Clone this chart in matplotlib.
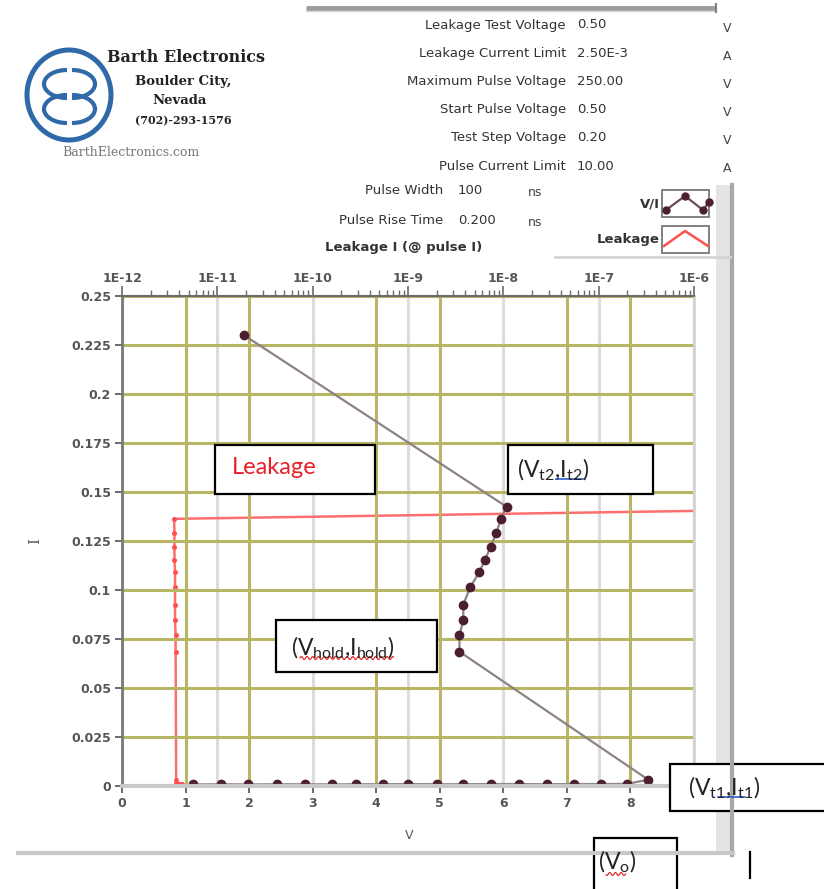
import numpy as np
import matplotlib.pyplot as plt
from matplotlib.patches import Rectangle, Arc, Ellipse
from matplotlib.ticker import LogLocator, FuncFormatter, NullFormatter
from matplotlib import font_manager

# pulse V/I curve: pulse voltage (V) and pulse current (A), in pulse order
vi_v = [1.12, 1.55, 1.99, 2.44, 2.88, 3.30, 3.68, 4.11, 4.50, 4.95, 5.37, 5.81,
        6.25, 6.68, 7.11, 7.54, 7.95, 8.28, 5.31, 5.31, 5.37, 5.37, 5.48, 5.62,
        5.71, 5.80, 5.89, 5.96, 6.05, 1.92]
vi_i = [0.0008, 0.0009, 0.0008, 0.0009, 0.0009, 0.0008, 0.0009, 0.0009, 0.0010,
        0.0009, 0.0009, 0.0010, 0.0010, 0.0009, 0.0010, 0.0010, 0.0011, 0.0032,
        0.0685, 0.0770, 0.0845, 0.0925, 0.1015, 0.1090, 0.1153, 0.1220, 0.1290,
        0.1363, 0.1425, 0.2300]

# leakage current (A) measured after each pulse, plotted against pulse current
leak_a = [4.3e-12, 4.1e-12, 3.9e-12, 4.2e-12, 3.8e-12, 4.0e-12, 3.8e-12, 3.9e-12,
          3.7e-12, 3.8e-12, 3.7e-12, 3.8e-12, 3.7e-12, 3.7e-12, 3.8e-12, 3.7e-12,
          3.7e-12, 3.7e-12, 3.65e-12, 3.65e-12, 3.6e-12, 3.6e-12, 3.6e-12,
          3.6e-12, 3.55e-12, 3.55e-12, 3.55e-12, 3.52e-12, 8.0e-4, 9.0e-4]
leak_i = vi_i

yticks = [0, 0.025, 0.05, 0.075, 0.1, 0.125, 0.15, 0.175, 0.2, 0.225, 0.25]
ytick_labels = ['0', '0.025', '0.05', '0.075', '0.1', '0.125', '0.15', '0.175',
                '0.2', '0.225', '0.25']
xticks = [0, 1, 2, 3, 4, 5, 6, 7, 8, 9]

param_names = ['Leakage Test Voltage', 'Leakage Current Limit', 'Maximum Pulse Voltage',
               'Start Pulse Voltage', 'Test Step Voltage', 'Pulse Current Limit']
param_values = ['0.50', '2.50E-3', '250.00', '0.50', '0.20', '10.00']
param_units = ['V', 'A', 'V', 'V', 'V', 'A']
pulse_names = ['Pulse Width', 'Pulse Rise Time']
pulse_values = ['100', '0.200']
pulse_units = ['ns', 'ns']

installed = {f.name for f in font_manager.fontManager.ttflist}
narrow = 'Liberation Sans Narrow' if 'Liberation Sans Narrow' in installed else 'DejaVu Sans'
W, H = 824, 889

fig = plt.figure(figsize=(W / 100, H / 100), dpi=100)
fig.patch.set_facecolor('white')

# main V/I axes with log leakage axis on top
ax = fig.add_axes([122 / W, 103 / H, 572 / W, 490 / H])
ax2 = ax.twiny()
ax.set_zorder(2)
ax2.set_zorder(1)
ax.patch.set_visible(False)
ax2.patch.set_visible(True)
ax2.patch.set_facecolor('white')

olive = '#b8b564'
ax.set_xlim(0, 9)
ax.set_ylim(0, 0.25)
ax.set_xticks(xticks)
ax.set_yticks(yticks)
ax.set_yticklabels(ytick_labels)
ax.grid(True, color=olive, lw=2.2)
for k, gl in enumerate(ax.get_xgridlines()):
    if xticks[k] in (3, 6):
        gl.set_visible(False)

ax.plot(vi_v, vi_i, color='#8e8284', lw=1.6, marker='o', ms=6,
        mfc='#4b1f30', mec='#4b1f30')

ax2.set_xscale('log')
ax2.set_xlim(1e-12, 1e-6)
ax2.xaxis.set_major_locator(LogLocator(base=10, numticks=10))
ax2.xaxis.set_minor_locator(LogLocator(base=10, subs=np.arange(2, 10), numticks=100))
ax2.xaxis.set_major_formatter(FuncFormatter(lambda t, p: '1E%d' % round(np.log10(t))))
ax2.xaxis.set_minor_formatter(NullFormatter())
ax2.grid(True, axis='x', which='major', color='#dcdcdc', lw=2.2)
ax2.plot(leak_a, leak_i, color='#ff6e6e', lw=1.8, marker='o', ms=3.6,
         mfc='#ff4f4f', mec='none')

for s in ax2.spines.values():
    s.set_visible(False)
ax.spines['left'].set_color('#7a7a7a')
ax.spines['left'].set_linewidth(2)
ax.spines['top'].set_color('#6a6a6a')
ax.spines['top'].set_linewidth(1.5)
ax.spines['bottom'].set_color('#c8c8c8')
ax.spines['bottom'].set_linewidth(3)
ax.spines['right'].set_color('#d4d4d4')
ax.spines['right'].set_linewidth(2)

tick_font = dict(family='DejaVu Sans', weight='bold', size=9)
ax.tick_params(axis='both', direction='out', length=5, width=1.4, color='#6a6a6a',
               labelcolor='#555555', pad=3)
ax2.tick_params(axis='x', which='major', direction='out', length=7, width=1.2,
                color='#6a6a6a', labelcolor='#555555', pad=1)
ax2.tick_params(axis='x', which='minor', direction='out', length=4, width=1,
                color='#6a6a6a')
for lab in ax.get_xticklabels() + ax.get_yticklabels() + ax2.get_xticklabels():
    lab.set_fontproperties(font_manager.FontProperties(**tick_font))

ax.set_xlabel('V', fontsize=9, color='#555555')
ax.xaxis.set_label_coords(0.502, -0.088)
ax.set_ylabel('I', fontsize=11, color='#555555', family='DejaVu Serif')
ax.yaxis.set_label_coords(-0.14, 0.5)

# overlay in pixel coordinates for the panel, logo and callout boxes
deco = fig.add_axes([0, 0, 1, 1], zorder=10)
deco.set_xlim(0, W)
deco.set_ylim(H, 0)
deco.axis('off')

# panel frame
deco.plot([306, 716], [8, 8], color='#9c9c9c', lw=3.5, solid_capstyle='butt')
deco.plot([306, 716], [10.5, 10.5], color='#d8d8d8', lw=1)
deco.plot([716, 716], [4, 12], color='#808080', lw=1.5)
deco.add_patch(Rectangle((716, 185), 14, 670, fc='#e4e4e4', ec='none'))
deco.plot([732, 732], [185, 855], color='#a8a8a8', lw=3)
deco.plot([18, 733], [853, 853], color='#c8c8c8', lw=3)
deco.plot([555, 730], [257, 257], color='#d4d4d4', lw=2)

# parameter table
for k, (n, v, u) in enumerate(zip(param_names, param_values, param_units)):
    y = 25 + k * 28.2
    deco.text(566, y, n, ha='right', va='center', family=narrow, fontsize=9.5, color='#333333')
    deco.text(577, y, v, ha='left', va='center', family=narrow, fontsize=9.5, color='#333333')
    deco.text(727, y + 3, u, ha='center', va='center', family=narrow, fontsize=9, color='#444444')
for k, (n, v, u) in enumerate(zip(pulse_names, pulse_values, pulse_units)):
    y = 190 + k * 30
    deco.text(443, y, n, ha='right', va='center', family=narrow, fontsize=9.5, color='#333333')
    deco.text(458, y, v, ha='left', va='center', family=narrow, fontsize=9.5, color='#333333')
    deco.text(528, y + 3, u, ha='left', va='center', family=narrow, fontsize=9, color='#444444')
deco.text(325, 247, 'Leakage I (@ pulse I)', ha='left', va='center', family=narrow,
          fontsize=9.5, fontweight='bold', color='#333333')

# legend
deco.text(660, 204, 'V/I', ha='right', va='center', family=narrow, fontsize=9.5,
          fontweight='bold', color='#333333')
deco.text(660, 240, 'Leakage', ha='right', va='center', family=narrow, fontsize=9.5,
          fontweight='bold', color='#333333')
for top in (190, 226):
    deco.add_patch(Rectangle((662, top), 47, 27, fc='white', ec='#777777', lw=1.3))
deco.plot([666, 685, 703, 709], [210, 196, 210, 202], color='#6d4a55', lw=1.6,
          marker='o', ms=5, mfc='#4b1f30', mec='#4b1f30')
deco.plot([664, 685, 708], [246, 231, 246], color='#ff5050', lw=1.8)

# logo
blue = '#2f69a8'
deco.add_patch(Ellipse((69, 95), 84, 90, fill=False, ec=blue, lw=3.6))
for cy in (84, 109):
    deco.add_patch(Arc((67, cy), 46, 28, theta1=90, theta2=270, ec=blue, lw=3))
    deco.add_patch(Arc((72, cy), 46, 28, theta1=-90, theta2=90, ec=blue, lw=3))
serif = 'DejaVu Serif'
deco.text(107, 57, 'Barth Electronics', ha='left', va='center', family=serif,
          fontweight='bold', fontsize=11.5, color='#222222')
deco.text(135, 81, 'Boulder City,', ha='left', va='center', family=serif,
          fontweight='bold', fontsize=9.5, color='#222222')
deco.text(152, 101, 'Nevada', ha='left', va='center', family=serif,
          fontweight='bold', fontsize=9.5, color='#222222')
deco.text(135, 121, '(702)-293-1576', ha='left', va='center', family=serif,
          fontweight='bold', fontsize=8, color='#222222')
deco.text(62, 153, 'BarthElectronics.com', ha='left', va='center', family=serif,
          fontsize=9, color='#777777')

# callout boxes
box_font = 'Lato'
boxes = [(215, 445, 160, 49), (508, 445, 145, 49), (276, 620, 161, 52),
         (670, 764, 170, 47), (594, 838, 83, 60)]
for x0, y0, bw, bh in boxes:
    deco.add_patch(Rectangle((x0, y0), bw, bh, fc='white', ec='black', lw=1.6))
deco.text(232, 468, 'Leakage', ha='left', va='center', family=box_font,
          fontsize=17, color='#e8202a')
deco.text(517, 470, r'(V$_\mathregular{t2}$,I$_\mathregular{t2}$)', ha='left',
          va='center', family=box_font, fontsize=16.5, color='#222222')
deco.text(291, 648, r'(V$_\mathregular{hold}$,I$_\mathregular{hold}$)', ha='left',
          va='center', family=box_font, fontsize=16.5, color='#222222')
deco.text(688, 788, r'(V$_\mathregular{t1}$,I$_\mathregular{t1}$)', ha='left',
          va='center', family=box_font, fontsize=16.5, color='#222222')
deco.text(598, 862, r'(V$_\mathregular{o}$)', ha='left', va='center',
          family=box_font, fontsize=16.5, color='#222222')

# spell-check underlines
deco.plot([556, 583], [479, 479], color='#3060d0', lw=1.2)
deco.plot([718, 745], [797, 797], color='#3060d0', lw=1.2)
for xa, xb, yy in ((300, 394, 658), (606, 626, 874)):
    xs = np.arange(xa, xb, 0.5)
    deco.plot(xs, yy + 1.5 * np.sin(xs * 1.1), color='#e03030', lw=0.9)

# text cursor
deco.plot([750, 750], [852, 878], color='black', lw=1.6)

fig.savefig('out.png', dpi=100)
